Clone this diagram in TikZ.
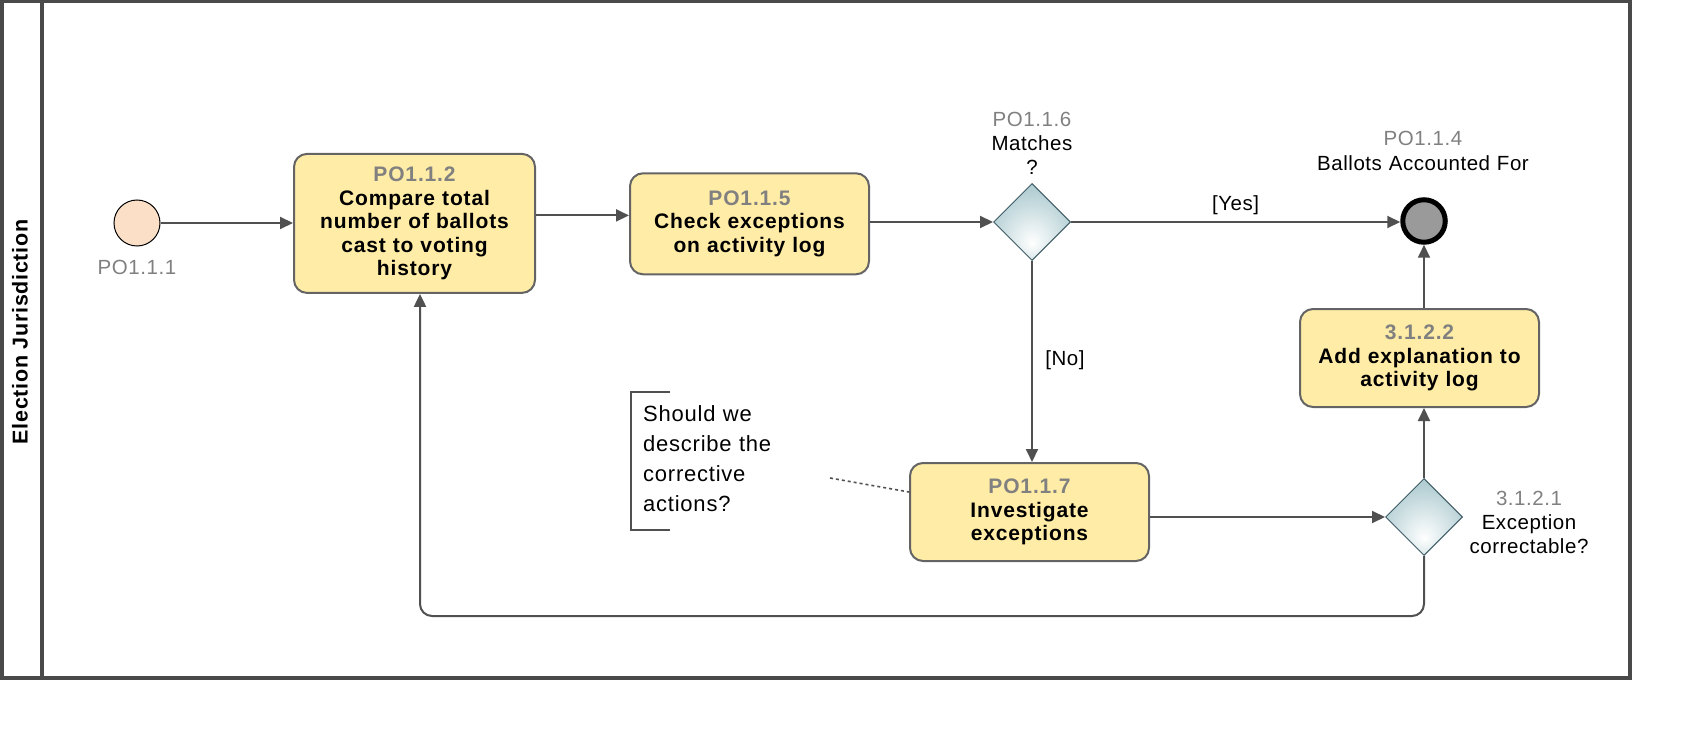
\documentclass[tikz,border=0pt]{standalone}
\usepackage{fontspec}
\setmainfont{Liberation Sans}
\newfontfamily\tskfont[LetterSpace=4]{Liberation Sans}
\newfontfamily\lblfont[LetterSpace=2.7]{Liberation Sans}
\newfontfamily\annfont[LetterSpace=3.5]{Liberation Sans}
\newfontfamily\lanefont[LetterSpace=3.2]{Liberation Sans}
\usetikzlibrary{shapes.geometric,arrows.meta}
\definecolor{taskfill}{HTML}{FFECA6}
\definecolor{taskline}{HTML}{646464}
\definecolor{idgray}{HTML}{808080}
\definecolor{flowcol}{HTML}{505050}
\definecolor{poolcol}{HTML}{4A4A4A}
\definecolor{startfill}{HTML}{FBDFC6}
\definecolor{endfill}{HTML}{9A9A9A}
\definecolor{gwcol}{HTML}{B4CFD4}
\definecolor{gwline}{HTML}{3E5C66}
\pgfdeclareradialshading{gwshade}{\pgfpoint{0bp}{-14bp}}{color(0bp)=(white); color(28bp)=(gwcol); color(60bp)=(gwcol)}
\begin{document}
\begin{tikzpicture}[x=1pt,y=-1pt,
  pool/.style={draw=poolcol, line width=3.5pt},
  task/.style={draw=taskline, line width=2pt, fill=taskfill, rounded corners=13pt,
    minimum width=239pt, minimum height=98pt, text width=232pt, align=center,
    inner sep=0pt, font=\tskfont\bfseries\fontsize{21}{23.5}\selectfont},
  gateway/.style={shape=diamond, draw=gwline, line width=1pt, shading=gwshade,
    minimum width=77pt, minimum height=77pt, inner sep=0pt},
  startev/.style={circle, draw=black, line width=1pt, fill=startfill, minimum size=46pt, inner sep=0pt},
  endev/.style={circle, draw=black, line width=5pt, fill=endfill, minimum size=42.5pt, inner sep=0pt},
  lbl/.style={font=\lblfont\fontsize{20.5}{24}\selectfont, inner sep=0pt, text width=260pt, align=center},
  flow/.style={draw=flowcol, line width=2pt, -{Triangle[length=13pt,width=12pt]}},
  assoc/.style={draw=flowcol, line width=1.6pt, dash pattern=on 3pt off 3pt},
  bracket/.style={draw=flowcol, line width=2pt},
  anno/.style={font=\annfont\fontsize{22}{30}\selectfont, inner sep=0pt, text width=140pt, align=left}
]
\useasboundingbox (0,0) rectangle (1690,738);
% pool and lane
\draw[pool] (1.75,1.75) rectangle (1630,678);
\draw[pool] (42,1.75) -- (42,678);
\node[rotate=90, font=\lanefont\bfseries\fontsize{21.5}{24}\selectfont, inner sep=0pt] (lane) at (20,332) {Election Jurisdiction};

% nodes
\node[startev] (s) at (137,223) {};
\node[lbl, anchor=base, text=idgray] (sl) at (137,274) {PO1.1.1};

\node[task, minimum width=241pt, minimum height=139pt] (t1) at (414.5,223.4)
  {{\color{idgray}PO1.1.2}\\Compare total\\number of ballots\\cast to voting\\history};
\node[task, minimum height=101pt] (t2) at (749.5,223.8)
  {{\color{idgray}PO1.1.5}\\Check exceptions\\on activity log};

\node[gateway] (g1) at (1032,222) {};
\node[lbl, anchor=base] (g1l) at (1032,126.5) {{\color{idgray}PO1.1.6}\\Matches\\?};

\node[endev] (e) at (1424,221) {};
\node[lbl, anchor=base, font=\lblfont\fontsize{20.5}{24.7}\selectfont] (el) at (1423,146) {{\color{idgray}PO1.1.4}\\Ballots Accounted For};

\node[task] (t3) at (1419.5,358)
  {{\color{idgray}3.1.2.2}\\Add explanation to\\activity log};
\node[task] (t4) at (1029.5,512)
  {{\color{idgray}PO1.1.7}\\Investigate\\exceptions};

\node[gateway] (g2) at (1424,517) {};
\node[lbl, anchor=base] (g2l) at (1529,505) {{\color{idgray}3.1.2.1}\\Exception\\correctable?};

% annotation
\node[anno, anchor=base west] (anno) at (643,421) {Should we\\describe the\\corrective\\actions?};
\draw[bracket] (670,392) -- (631,392) -- (631,530) -- (670,530);
\coordinate (annotip) at (830,478);
\draw[assoc] (annotip) -- ([yshift=20pt]t4.west);

% flows
\draw[flow] (s) -- (s -| t1.west);
\draw[flow] ([yshift=8pt]t1.east) -- ([yshift=8pt]t1.east -| t2.west);
\draw[flow] (t2.east |- g1) -- (g1.west);
\draw[flow] (g1.east) -- node[lbl, anchor=base, text width=80pt, yshift=11pt] (yes) {[Yes]} (g1.east -| e.west);
\draw[flow] (g1.south) -- node[lbl, anchor=base, text width=60pt, xshift=33pt, yshift=-4pt] (no) {[No]} (g1.south |- t4.north);
\draw[flow] (t4.east |- g2) -- (g2.west);
\draw[flow] (g2.north) -- (g2.north |- t3.south);
\draw[flow] (t3.north -| e) -- (e.south);
\draw[flow, rounded corners=12pt] (g2.south) -- ++(0,60) -| ([xshift=5.5pt]t1.south);
\end{tikzpicture}
\end{document}
